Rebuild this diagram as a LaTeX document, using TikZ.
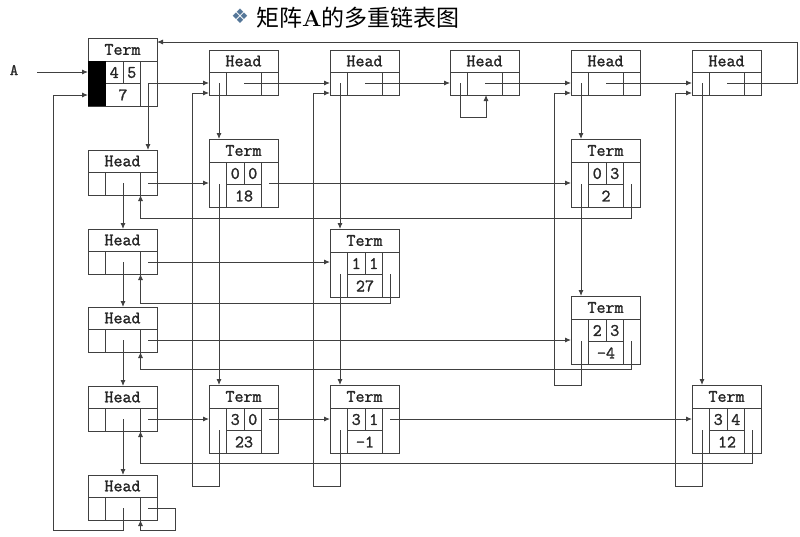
\documentclass[tikz,border=0pt]{standalone}
\usepackage{fontspec}
\newfontfamily\cjk{Noto Sans CJK SC}
\newfontfamily\symfont{DejaVu Sans}
\newfontfamily\recfont{Latin Modern Mono}[FakeBold=1.5]
\usetikzlibrary{arrows.meta}
\definecolor{diablue}{RGB}{84,118,152}
\tikzset{
    recbox/.style={
        draw=black!75,
        line width=0.9pt,
        minimum width=69pt,
        inner sep=0pt, outer sep=0pt,
        anchor=north west},
    cell/.style={
        draw=black!75,
        line width=0.9pt},
    lab/.style={
        font=\fontsize{17.5}{17.5}\selectfont\recfont,
        text=black!85,
        inner sep=0pt},
    link/.style={
        draw=black!75,
        ->,>={Latex[length=6pt,width=5pt]},
        line width=0.9pt}}

% head record: name, x, y
\newcommand\headnode[3]{%
    \node[recbox, minimum height=45pt] (#1) at (#2,#3) {};
    \draw[cell] (#2,#3+22) -- +(69,0)
        (#2+17.5,#3+22) -- +(0,23)
        (#2+52.5,#3+22) -- +(0,23);
    \node[lab] at (#2+34.5,#3+11) {Head};
    \coordinate (#1L) at (#2+10,#3+33);
    \coordinate (#1M) at (#2+35,#3+33);
    \coordinate (#1R) at (#2+60,#3+33);
    \coordinate (#1B) at (#2,#3+43);
    \coordinate (#1D) at (#2+52.5,#3+45);}

% term record: name, x, y, row, col, value
\newcommand\termnode[6]{%
    \node[recbox, minimum height=68pt] (#1) at (#2,#3) {};
    \draw[cell] (#2,#3+23) -- +(69,0)
        (#2+17.5,#3+23) -- +(0,45)
        (#2+52.5,#3+23) -- +(0,45)
        (#2+17.5,#3+45.5) -- +(35,0)
        (#2+35,#3+23) -- +(0,22.5);
    \node[lab] at (#2+34.5,#3+11.5) {Term};
    \node[lab] at (#2+26.25,#3+34.5) {#4};
    \node[lab] at (#2+43.75,#3+34.5) {#5};
    \node[lab] at (#2+35,#3+57) {#6};
    \coordinate (#1L) at (#2+10,#3+45);
    \coordinate (#1R) at (#2+60,#3+45);
    \coordinate (#1B) at (#2,#3+57);}

\begin{document}
\begin{tikzpicture}[x=1pt,y=-1pt]
    \useasboundingbox (0,0) rectangle (800,536);

    \node[text=diablue, font=\fontsize{20}{20}\selectfont\symfont, inner sep=0pt] (dia) at (240,16) {❖};
    \node[anchor=west, inner sep=0pt, font=\fontsize{23}{23}\selectfont\cjk] (title) at (256,18)
        {矩阵{\rmfamily\bfseries A}的多重链表图};

    \termnode{m}{88}{38}{4}{5}{7}
    \fill[black] (88,61) rectangle (105.5,106);
    \node[lab, font=\fontsize{16}{16}\selectfont\recfont] (A) at (14,70) {A};

    \headnode{c0}{209}{50}
    \headnode{c1}{330}{50}
    \headnode{c2}{450}{50}
    \headnode{c3}{571}{50}
    \headnode{c4}{692}{50}

    \headnode{r0}{88}{150}
    \headnode{r1}{88}{229}
    \headnode{r2}{88}{307}
    \headnode{r3}{88}{386}
    \headnode{r4}{88}{475}

    \termnode{t00}{209}{139}{0}{0}{18}
    \termnode{t03}{571}{139}{0}{3}{2}
    \termnode{t11}{330}{229}{1}{1}{27}
    \termnode{t23}{571}{296}{2}{3}{-4}
    \termnode{t30}{209}{385}{3}{0}{23}
    \termnode{t31}{330}{385}{3}{1}{-1}
    \termnode{t34}{692}{385}{3}{4}{12}

    \coordinate (ain) at (37,72);
    \coordinate (ne) at (797,42);
    \coordinate (sw) at (53,530);
    \coordinate (s2) at (486,117);

    \draw[link] (ain) -- (ain -| m.west);
    \draw[link] (mR) -- (mR -| c0.west);
    \draw[link] (mR) -- (mR |- r0.north);

    \draw[link] (c0M) -- (c0M -| c1.west);
    \draw[link] (c1M) -- (c1M -| c2.west);
    \draw[link] (c2M) -- (c2M -| c3.west);
    \draw[link] (c3M) -- (c3M -| c4.west);
    \draw[link] (c4M) -| (ne) -- (ne -| m.east);

    \draw[link] (r0M) -- (r0M |- r1.north);
    \draw[link] (r1M) -- (r1M |- r2.north);
    \draw[link] (r2M) -- (r2M |- r3.north);
    \draw[link] (r3M) -- (r3M |- r4.north);
    \draw[link] (r4M) |- (sw) |- (mB);

    \draw[link] (c0L) -- (c0L |- t00.north);
    \draw[link] (t00L) -- (t00L |- t30.north);
    \draw[link] (t30L) -- ++(0,56) -- ++(-27,0) |- (c0B);
    \draw[link] (c1L) -- (c1L |- t11.north);
    \draw[link] (t11L) -- (t11L |- t31.north);
    \draw[link] (t31L) -- ++(0,56) -- ++(-27,0) |- (c1B);
    \draw[link] (c2L) |- (s2) -- (s2 |- c2.south);
    \draw[link] (c3L) -- (c3L |- t03.north);
    \draw[link] (t03L) -- (t03L |- t23.north);
    \draw[link] (t23L) -- ++(0,44) -- ++(-27,0) |- (c3B);
    \draw[link] (c4L) -- (c4L |- t34.north);
    \draw[link] (t34L) -- ++(0,56) -- ++(-27,0) |- (c4B);

    \draw[link] (r0R) -- (r0R -| t00.west);
    \draw[link] (r0R -| t00R) -- (r0R -| t03.west);
    \draw[link] (t03R) -- ++(0,34) -| (r0D);
    \draw[link] (r1R) -- (r1R -| t11.west);
    \draw[link] (t11R) -- ++(0,29) -| (r1D);
    \draw[link] (r2R) -- (r2R -| t23.west);
    \draw[link] (t23R) -- ++(0,28) -| (r2D);
    \draw[link] (r3R) -- (r3R -| t30.west);
    \draw[link] (r3R -| t30R) -- (r3R -| t31.west);
    \draw[link] (r3R -| t31R) -- (r3R -| t34.west);
    \draw[link] (t34R) -- ++(0,33) -| (r3D);
    \draw[link] (r4R) -- ++(27,0) -- ++(0,22) -| (r4D);
\end{tikzpicture}
\end{document}
